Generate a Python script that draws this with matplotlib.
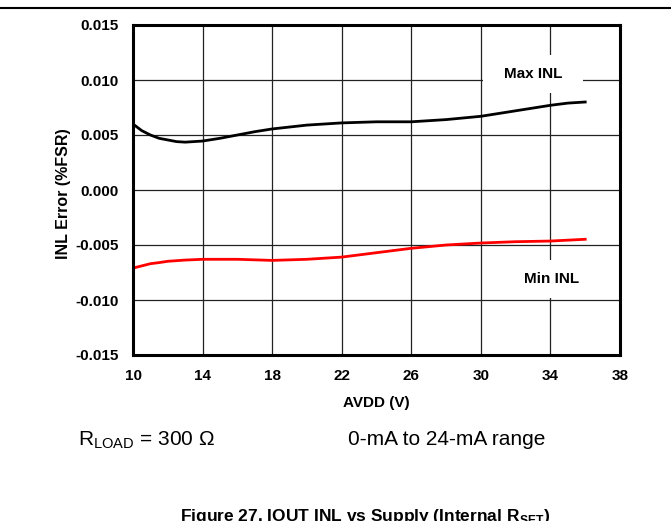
import matplotlib
matplotlib.use('Agg')
import matplotlib.pyplot as plt
from matplotlib.lines import Line2D
from matplotlib.patches import Rectangle

plt.rcParams['font.family'] = ['Liberation Sans', 'DejaVu Sans']
plt.rcParams['mathtext.fontset'] = 'custom'
plt.rcParams['mathtext.rm'] = 'Liberation Sans'
plt.rcParams['mathtext.bf'] = 'Liberation Sans:bold'

# AVDD (V) vs INL error (%FSR)
max_avdd = [10, 10.5, 11, 11.5, 12, 12.5, 13, 13.5, 14, 15, 16, 17, 18, 20,
            22, 24, 26, 28, 30, 32, 34, 35, 36]
max_inl = [0.0060, 0.0054, 0.0050, 0.0047, 0.00455, 0.0044, 0.00435, 0.0044,
           0.00445, 0.0047, 0.0050, 0.0053, 0.00555, 0.0059, 0.0061, 0.0062,
           0.0062, 0.0064, 0.0067, 0.0072, 0.0077, 0.0079, 0.0080]

min_avdd = [10, 10.5, 11, 11.5, 12, 13, 14, 16, 18, 20, 22, 24, 26, 28, 30,
            32, 34, 36]
min_inl = [-0.0071, -0.0069, -0.0067, -0.0066, -0.00648, -0.00637, -0.0063,
           -0.0063, -0.0064, -0.0063, -0.0061, -0.0057, -0.0053, -0.0050,
           -0.00482, -0.0047, -0.00464, -0.00448]

x_ticks = [10, 14, 18, 22, 26, 30, 34, 38]
y_ticks = [-0.015, -0.010, -0.005, 0.000, 0.005, 0.010, 0.015]

fig = plt.figure(figsize=(6.71, 5.21), dpi=100)
ax = fig.add_axes([133 / 671, 166 / 521, 487 / 671, 330 / 521])

ax.set_xlim(10, 38)
ax.set_ylim(-0.015, 0.015)
ax.set_xticks(x_ticks)
ax.set_yticks(y_ticks)
ax.set_yticklabels(['%.3f' % v for v in y_ticks])
ax.tick_params(length=0, labelsize=11, pad=10)
for lab in ax.get_xticklabels() + ax.get_yticklabels():
    lab.set_fontweight('bold')

ax.grid(True, color='#222222', linewidth=0.9, zorder=0.5)
ax.set_axisbelow(True)
for sp in ax.spines.values():
    sp.set_linewidth(2.2)
    sp.set_zorder(5)

# white boxes behind the curve labels
ax.add_patch(Rectangle((30.13, 0.00882), 5.75, 0.00345, facecolor='white',
                       edgecolor='none', zorder=1))
ax.add_patch(Rectangle((31.22, -0.00982), 5.75, 0.00346, facecolor='white',
                       edgecolor='none', zorder=1))

ax.plot(max_avdd, max_inl, color='black', linewidth=2, zorder=3,
        solid_joinstyle='round')
ax.plot(min_avdd, min_inl, color='#ff0000', linewidth=2, zorder=3,
        solid_joinstyle='round')

ax.text(33.0, 0.01055, 'Max INL', fontsize=11, fontweight='bold',
        ha='center', va='center', zorder=4)
ax.text(34.09, -0.00809, 'Min INL', fontsize=11, fontweight='bold',
        ha='center', va='center', zorder=4)

ax.set_xlabel('AVDD (V)', fontsize=11, fontweight='bold')
ax.xaxis.set_label_coords(0.5, -0.124)
ax.set_ylabel('INL Error (%FSR)', fontsize=11.5, fontweight='bold')
ax.yaxis.set_label_coords(-0.128, 0.49)

fig.add_artist(Line2D([0, 1], [513 / 521, 513 / 521], color='black',
                      linewidth=1.5, transform=fig.transFigure))

fig.text(78 / 671, 76 / 521, r'R$_{\mathrm{LOAD}}$ = 300 $\Omega$',
         fontsize=15, ha='left', va='baseline')
fig.text(348 / 671, 76 / 521, '0-mA to 24-mA range', fontsize=15,
         ha='left', va='baseline')
fig.text(365 / 671, 14 / 521,
         r'Figure 27. IOUT INL vs Supply (Internal R$_{\mathbf{SET}}$)',
         fontsize=12.5, fontweight='bold', ha='center', va='top')

fig.savefig('out.png', dpi=100)
